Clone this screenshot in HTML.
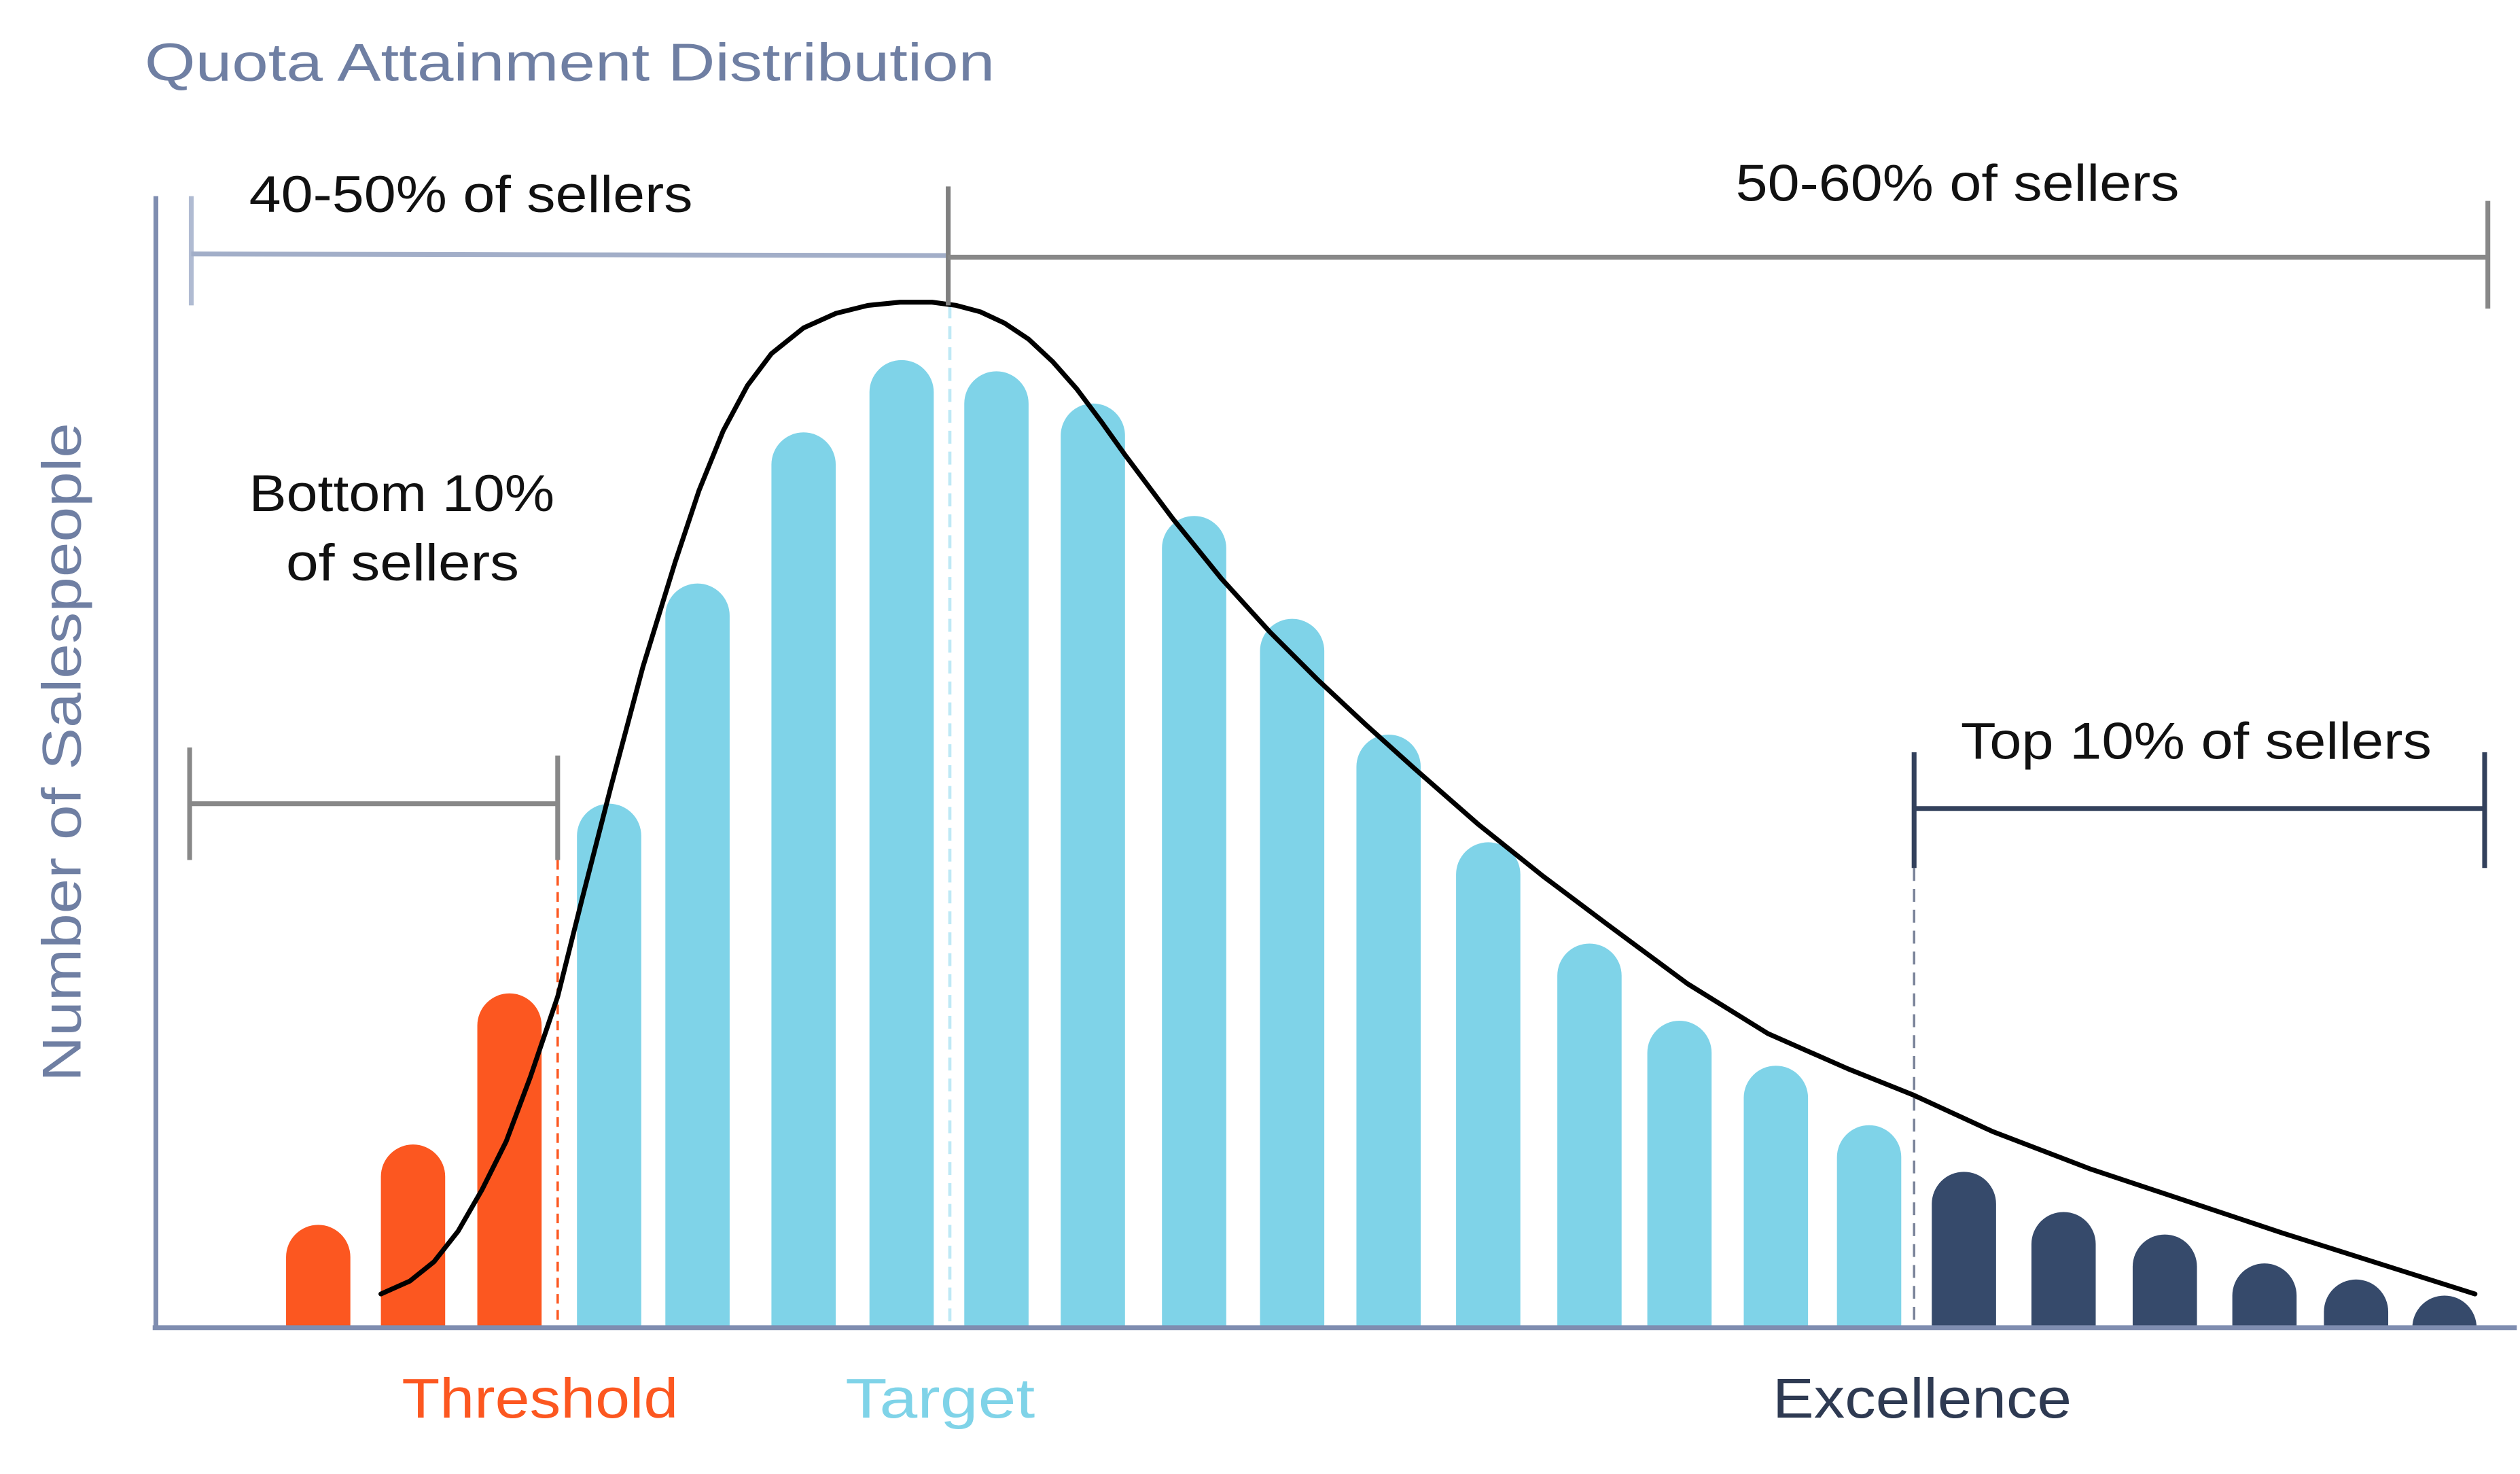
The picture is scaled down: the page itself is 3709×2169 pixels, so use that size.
<!DOCTYPE html>
<html><head><meta charset="utf-8"><style>
html,body{margin:0;padding:0;background:#fff;}
svg{display:block;}
text{font-family:"Liberation Sans",sans-serif;}
</style></head><body>
<svg width="3709" height="2169" viewBox="0 0 1568 917" preserveAspectRatio="none" xmlns="http://www.w3.org/2000/svg">
<rect width="1568" height="917" fill="#fff"/>
<text x="90" y="50" font-size="33" fill="#6f7fa3" textLength="529" lengthAdjust="spacingAndGlyphs">Quota Attainment Distribution</text>
<text transform="translate(50,468) rotate(-90)" text-anchor="middle" font-size="34" fill="#6f7fa3" textLength="410" lengthAdjust="spacingAndGlyphs">Number of Salespeople</text>
<g fill="#fc5720">
<path d="M178,826V782a20,20 0 0 1 40,0V826Z"/>
<path d="M237,826V732a20,20 0 0 1 40,0V826Z"/>
<path d="M297,826V638a20,20 0 0 1 40,0V826Z"/>
</g>
<g fill="#7fd3e8">
<path d="M359,826V520a20,20 0 0 1 40,0V826Z"/>
<path d="M414,826V383a20,20 0 0 1 40,0V826Z"/>
<path d="M480,826V289a20,20 0 0 1 40,0V826Z"/>
<path d="M541,826V244a20,20 0 0 1 40,0V826Z"/>
<path d="M600,826V251a20,20 0 0 1 40,0V826Z"/>
<path d="M660,826V271a20,20 0 0 1 40,0V826Z"/>
<path d="M723,826V341a20,20 0 0 1 40,0V826Z"/>
<path d="M784,826V405a20,20 0 0 1 40,0V826Z"/>
<path d="M844,826V477a20,20 0 0 1 40,0V826Z"/>
<path d="M906,826V544a20,20 0 0 1 40,0V826Z"/>
<path d="M969,826V607a20,20 0 0 1 40,0V826Z"/>
<path d="M1025,826V655a20,20 0 0 1 40,0V826Z"/>
<path d="M1085,826V683a20,20 0 0 1 40,0V826Z"/>
<path d="M1143,826V720a20,20 0 0 1 40,0V826Z"/>
</g>
<g fill="#364a6b">
<path d="M1202,826V749a20,20 0 0 1 40,0V826Z"/>
<path d="M1264,826V774a20,20 0 0 1 40,0V826Z"/>
<path d="M1327,826V788a20,20 0 0 1 40,0V826Z"/>
<path d="M1389,826V806a20,20 0 0 1 40,0V826Z"/>
<path d="M1446,826V816a20,20 0 0 1 40,0V826Z"/>
<path d="M1501,826a20,20 0 0 1 40,0Z"/>
</g>
<line x1="347" y1="535" x2="347" y2="826" stroke="#fc5720" stroke-width="1.5" stroke-dasharray="6,4"/>
<line x1="591" y1="190" x2="591" y2="826" stroke="#bfe9f5" stroke-width="2" stroke-dasharray="8,5"/>
<line x1="1191" y1="540" x2="1191" y2="826" stroke="#7a8399" stroke-width="1.5" stroke-dasharray="8,5"/>
<polyline points="237,805 255,797 270,785 285,766 300,740 315,710 330,670 347,620 362,560 380,490 400,415 420,350 435,305 450,268 465,240 480,220 500,204 520,195 540,190 560,188 580,188 595,190 610,194 625,201 640,211 655,225 670,242 685,262 700,283 730,323 760,360 790,393 820,423 850,451 880,478 920,513 960,545 1000,575 1050,612 1100,643 1150,665 1190,681 1240,704 1300,727 1360,747 1420,767 1480,786 1540,805" fill="none" stroke="#000" stroke-width="3" stroke-linejoin="round" stroke-linecap="round"/>
<line x1="97" y1="122" x2="97" y2="826" stroke="#7f8db0" stroke-width="3"/>
<line x1="95" y1="826" x2="1566" y2="826" stroke="#7f8db0" stroke-width="3"/>
<line x1="119" y1="122" x2="119" y2="190" stroke="#b0bbd2" stroke-width="3"/>
<line x1="119" y1="158" x2="590" y2="159" stroke="#a2aec8" stroke-width="3"/>
<line x1="590" y1="116" x2="590" y2="190" stroke="#808080" stroke-width="3"/>
<line x1="590" y1="160" x2="1548" y2="160" stroke="#888" stroke-width="3"/>
<line x1="1548" y1="125" x2="1548" y2="192" stroke="#888" stroke-width="3"/>
<line x1="118" y1="465" x2="118" y2="535" stroke="#888" stroke-width="3"/>
<line x1="118" y1="500" x2="347" y2="500" stroke="#888" stroke-width="3"/>
<line x1="347" y1="470" x2="347" y2="535" stroke="#888" stroke-width="3"/>
<line x1="1191" y1="468" x2="1191" y2="540" stroke="#33415c" stroke-width="3"/>
<line x1="1191" y1="503" x2="1546" y2="503" stroke="#33415c" stroke-width="3"/>
<line x1="1546" y1="468" x2="1546" y2="540" stroke="#33415c" stroke-width="3"/>
<g font-size="32" fill="#111">
<text x="155" y="132" textLength="276" lengthAdjust="spacingAndGlyphs">40-50% of sellers</text>
<text x="1080" y="125" textLength="276" lengthAdjust="spacingAndGlyphs">50-60% of sellers</text>
<text x="155" y="318" textLength="190" lengthAdjust="spacingAndGlyphs">Bottom 10%</text>
<text x="178" y="361" textLength="145" lengthAdjust="spacingAndGlyphs">of sellers</text>
<text x="1220" y="472" textLength="293" lengthAdjust="spacingAndGlyphs">Top 10% of sellers</text>
</g>
<g font-size="35">
<text x="250" y="882" fill="#fc5720" textLength="172" lengthAdjust="spacingAndGlyphs">Threshold</text>
<text x="526" y="882" fill="#7fd3e8" textLength="118" lengthAdjust="spacingAndGlyphs">Target</text>
<text x="1103" y="882" fill="#2e3a52" textLength="186" lengthAdjust="spacingAndGlyphs">Excellence</text>
</g>
</svg>
</body></html>
